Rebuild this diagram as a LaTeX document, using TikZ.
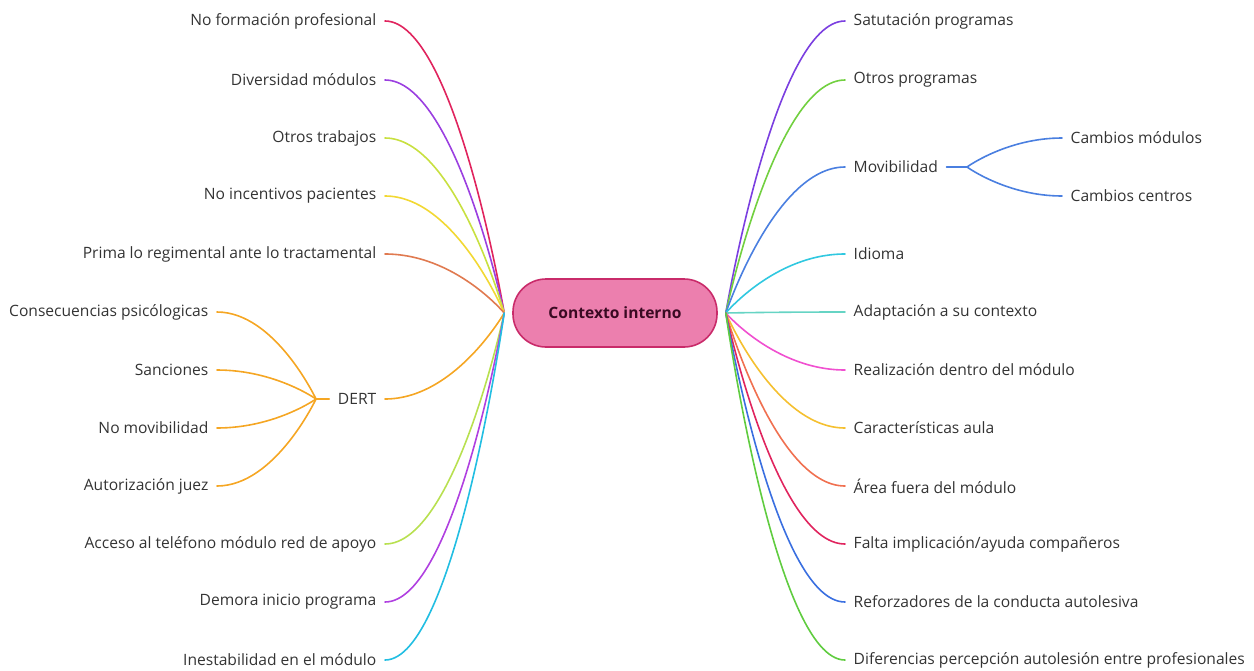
\documentclass[tikz,border=0pt]{standalone}
\usepackage{fontspec}
\setmainfont{Open Sans}
\begin{document}
\begin{tikzpicture}[x=1pt,y=-1pt,
  lab/.style={font=\fontsize{15.6}{18}\selectfont, text=black!80, inner xsep=8.5pt, inner ysep=2pt},
  labl/.style={lab, anchor=east},
  labr/.style={lab, anchor=west},
  br/.style={line width=1.6pt, line cap=round},
  center/.style={rounded corners=33pt, minimum width=204pt, minimum height=68pt, fill=pinkfill, draw=pinkdraw, line width=1.6pt, font=\fontsize{15.6}{18}\selectfont\bfseries, text=maroon}
]
\definecolor{pinkfill}{HTML}{EC7FAE}
\definecolor{pinkdraw}{HTML}{C92B6A}
\definecolor{maroon}{HTML}{3A0A22}
\definecolor{cRed}{HTML}{E0245E}
\definecolor{cPurple}{HTML}{9B3FE0}
\definecolor{cLime}{HTML}{C8E040}
\definecolor{cYellow}{HTML}{F2D833}
\definecolor{cBrown}{HTML}{E07A50}
\definecolor{cOrange}{HTML}{F5A623}
\definecolor{cLime2}{HTML}{B8E050}
\definecolor{cMagenta}{HTML}{B040E0}
\definecolor{cCyan}{HTML}{22BEE2}
\definecolor{cViolet}{HTML}{7B3FE0}
\definecolor{cGreen}{HTML}{72D040}
\definecolor{cBlue}{HTML}{4A7FE0}
\definecolor{cCyan2}{HTML}{30C8E0}
\definecolor{cTeal}{HTML}{66D4C4}
\definecolor{cPink}{HTML}{F050D0}
\definecolor{cGold}{HTML}{F5C030}
\definecolor{cCoral}{HTML}{F07050}
\definecolor{cBlue2}{HTML}{3A6FE0}
\definecolor{cGreen2}{HTML}{60CC40}

\useasboundingbox (0,0) rectangle (1254,670);

\node[center] (c) at (615,313) {Contexto interno};
\coordinate (jl) at ([xshift=-8pt]c.west);
\coordinate (jr) at ([xshift=8pt]c.east);

% left
\node[labl] (l1) at (385,21) {No formación profesional};
\node[labl] (l2) at (385,80) {Diversidad módulos};
\node[labl] (l3) at (385,138) {Otros trabajos};
\node[labl] (l4) at (385,196) {No incentivos pacientes};
\node[labl] (l5) at (385,254) {Prima lo regimental ante lo tractamental};
\node[labl] (dert) at (385,399) {DERT};
\node[labl] (l7) at (385,544) {Acceso al teléfono módulo red de apoyo};
\node[labl] (l8) at (385,602) {Demora inicio programa};
\node[labl] (l9) at (385,660) {Inestabilidad en el módulo};

\node[labl] (d1) at (217,312) {Consecuencias psicólogicas};
\node[labl] (d2) at (217,370) {Sanciones};
\node[labl] (d3) at (217,428) {No movibilidad};
\node[labl] (d4) at (217,486) {Autorización juez};
\coordinate (dj) at (316,399);

% right
\node[labr] (r1) at (845,21) {Satutación programas};
\node[labr] (r2) at (845,80) {Otros programas};
\node[labr] (mov) at (845,167) {Movibilidad};
\node[labr] (r4) at (845,254) {Idioma};
\node[labr] (r5) at (845,312) {Adaptación a su contexto};
\node[labr] (r6) at (845,370) {Realización dentro del módulo};
\node[labr] (r7) at (845,428) {Características aula};
\node[labr] (r8) at (845,486) {Área fuera del módulo};
\node[labr] (r9) at (845,544) {Falta implicación/ayuda compañeros};
\node[labr] (r10) at (845,602) {Reforzadores de la conducta autolesiva};
\node[labr] (r11) at (845,660) {Diferencias percepción autolesión entre profesionales};

\node[labr] (m1) at (1062,138) {Cambios módulos};
\node[labr] (m2) at (1062,196) {Cambios centros};
\coordinate (mj) at (967,167);

% left connectors
\foreach \n/\col in {l1/cRed,l2/cPurple,l3/cLime,l4/cYellow,l5/cBrown,dert/cOrange,l7/cLime2,l8/cMagenta,l9/cCyan}
  \draw[br,\col] (\n.east) .. controls +(70,0) and (jl) .. (jl);
\foreach \n in {d1,d2,d3,d4}
  \draw[br,cOrange] (\n.east) .. controls +(58,0) and (dj) .. (dj);
\draw[br,cOrange] (dert.west) -- (dj);

% right connectors
\foreach \n/\col in {r1/cViolet,r2/cGreen,mov/cBlue,r4/cCyan2,r5/cTeal,r6/cPink,r7/cGold,r8/cCoral,r9/cRed,r10/cBlue2,r11/cGreen2}
  \draw[br,\col] (jr) .. controls (jr) and +(-70,0) .. (\n.west);
\foreach \n in {m1,m2}
  \draw[br,cBlue] (mj) .. controls (mj) and +(-55,0) .. (\n.west);
\draw[br,cBlue] (mov.east) -- (mj);
\end{tikzpicture}
\end{document}
